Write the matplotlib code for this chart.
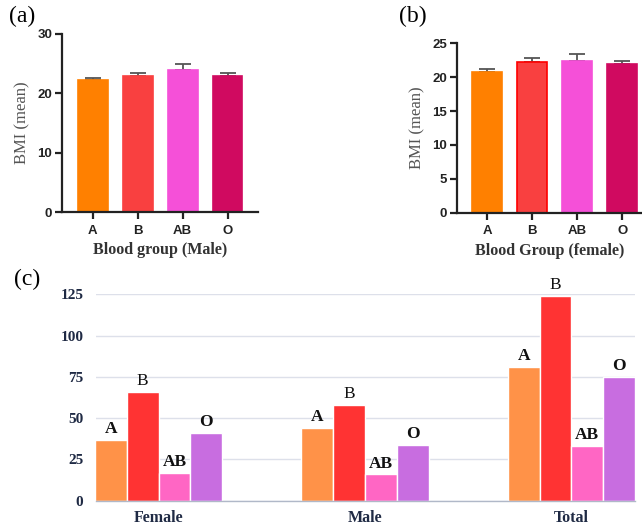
import matplotlib

matplotlib.use("Agg")
import matplotlib.pyplot as plt
import numpy as np

# panel (a): BMI by blood group, male
groups = ["A", "B", "AB", "O"]
male_bmi = [22.2, 23.0, 23.9, 22.9]
male_err = [0.4, 0.5, 1.1, 0.6]

# panel (b): BMI by blood group, female
female_bmi = [20.8, 22.2, 22.4, 21.9]
female_err = [0.4, 0.6, 1.0, 0.5]

# panel (c): counts by sex
sexes = ["Female", "Male", "Total"]
count_a = [37, 44, 81]
count_b = [66, 58, 124]
count_ab = [17, 16, 33]
count_o = [41, 34, 75]

bmi_colors = ["#FF8000", "#F94040", "#F550D8", "#D00A60"]
count_colors = ["#FF9248", "#FF3333", "#FF66C4", "#C86DE0"]

SERIF = "Liberation Serif"
SANS = "Liberation Sans"

fig = plt.figure(figsize=(6.42, 5.27), dpi=100)


def bmi_panel(rect, vals, errs, ymax, step, xlim, xlabel, edges):
    ax = fig.add_axes(rect)
    x = np.arange(len(groups))
    ax.bar(x, vals, width=0.667, color=bmi_colors, edgecolor=edges, linewidth=1.2, zorder=2)
    ax.errorbar(x, vals, yerr=[np.zeros(len(errs)), errs], fmt="none",
                ecolor="#555555", elinewidth=1.3, capsize=6, capthick=1.3, zorder=1)
    ax.set_ylim(0, ymax)
    ax.set_xlim(*xlim)
    ax.set_yticks(np.arange(0, ymax + 0.1, step))
    ax.set_xticks(x)
    ax.set_xticklabels(groups)
    for s in ["top", "right"]:
        ax.spines[s].set_visible(False)
    for s in ["left", "bottom"]:
        ax.spines[s].set_linewidth(1.6)
        ax.spines[s].set_color("#222222")
    ax.spines["left"].set_bounds(0, ymax)
    ax.tick_params(axis="y", length=5, width=1.6, color="#222222", pad=2)
    ax.tick_params(axis="x", length=5, width=1.6, color="#222222", pad=4)
    for lab in ax.get_xticklabels() + ax.get_yticklabels():
        lab.set_fontfamily(SANS)
        lab.set_fontweight("bold")
        lab.set_fontsize(9.5)
        lab.set_color("#222222")
    ax.set_ylabel("BMI (mean)", fontfamily=SERIF, fontsize=12, color="#555555", labelpad=5)
    ax.set_xlabel(xlabel, fontfamily=SERIF, fontweight="bold", fontsize=11.5, color="#333333", labelpad=4)
    return ax


bmi_panel([62 / 642, 1 - 212 / 527, 196 / 642, 178 / 527], male_bmi, male_err, 30, 10,
          (-0.69, 3.68), "Blood group (Male)", bmi_colors)
bmi_panel([457 / 642, 1 - 212.7 / 527, 185 / 642, 169.4 / 527], female_bmi, female_err, 25, 5,
          (-0.667, 3.44), "Blood Group (female)",
          [bmi_colors[0], "#FF0000", bmi_colors[2], bmi_colors[3]])

# panel (c)
axc = fig.add_axes([96 / 642, 1 - 500.7 / 527, 539 / 642, 206.4 / 527])
xg = np.arange(len(sexes))
step = 0.154
series = [("A", count_a, "bold"), ("B", count_b, "normal"),
          ("AB", count_ab, "bold"), ("O", count_o, "bold")]
for i, (name, vals, weight) in enumerate(series):
    xs = xg + (i - 1.5) * step
    axc.bar(xs, vals, width=step, color=count_colors[i], edgecolor="white", linewidth=1.0, zorder=2)
    for xx, v in zip(xs, vals):
        axc.annotate(name, (xx, v), xytext=(0, 2), textcoords="offset points",
                     ha="center", va="bottom", fontfamily=SERIF, fontweight=weight,
                     fontsize=12.5, color="#111111", annotation_clip=False)
axc.set_xlim(-0.303, 2.308)
axc.set_ylim(0, 125)
axc.set_yticks([0, 25, 50, 75, 100, 125])
axc.set_xticks(xg)
axc.set_xticklabels(sexes)
axc.grid(axis="y", color="#dde0ea", linewidth=1.0, zorder=0)
axc.set_axisbelow(True)
for s in ["top", "right", "left"]:
    axc.spines[s].set_visible(False)
axc.spines["bottom"].set_color("#b0b8c8")
axc.spines["bottom"].set_linewidth(1.0)
axc.tick_params(axis="both", length=0)
axc.tick_params(axis="y", pad=9)
axc.tick_params(axis="x", pad=7)
for lab in axc.get_yticklabels():
    lab.set_fontfamily(SERIF)
    lab.set_fontweight("bold")
    lab.set_fontsize(11)
    lab.set_color("#1f2a44")
for lab in axc.get_xticklabels():
    lab.set_fontfamily(SERIF)
    lab.set_fontweight("bold")
    lab.set_fontsize(11.5)
    lab.set_color("#1f2a44")

# panel letters
fig.text(9 / 642, 1 - 16 / 527, "(a)", fontfamily=SERIF, fontsize=17, va="center")
fig.text(399 / 642, 1 - 16 / 527, "(b)", fontfamily=SERIF, fontsize=17, va="center")
fig.text(14 / 642, 1 - 279 / 527, "(c)", fontfamily=SERIF, fontsize=17, va="center")

fig.savefig("out.png", dpi=100)
